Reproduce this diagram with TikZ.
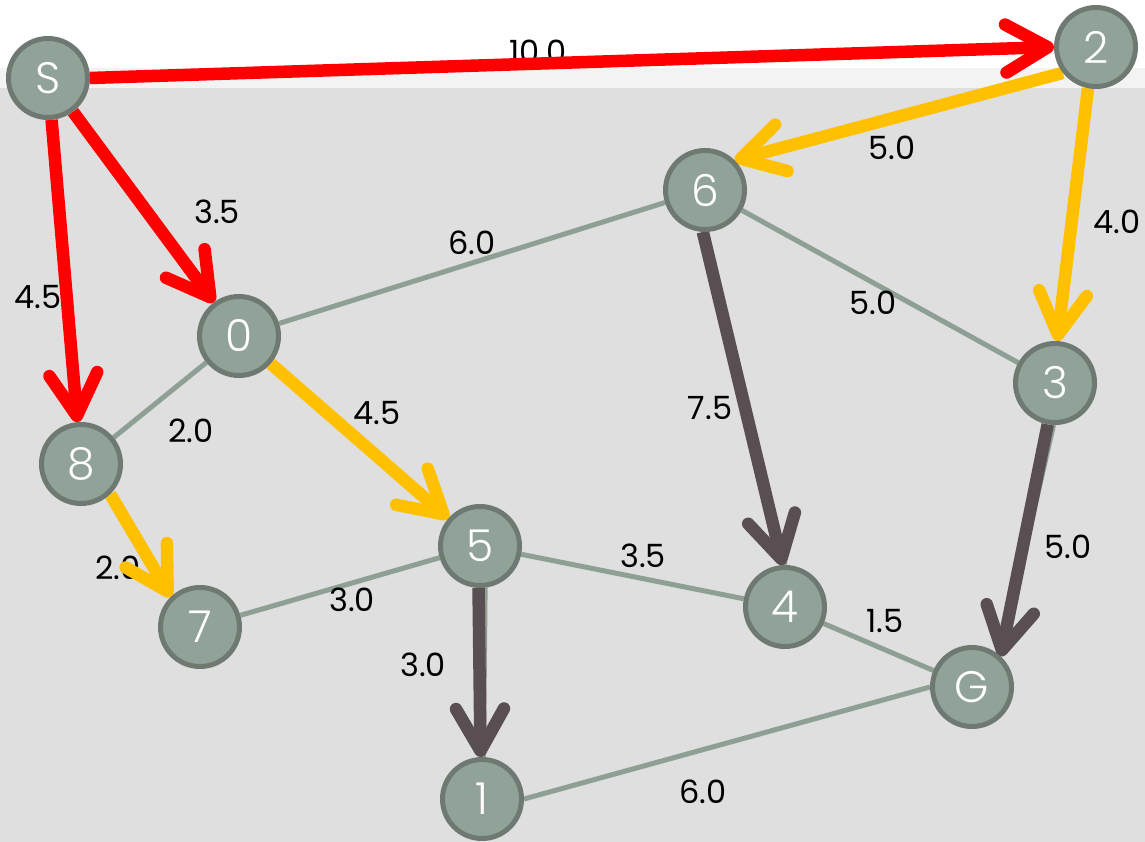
\documentclass[tikz,border=0pt]{standalone}
\usepackage{fontspec}
\setmainfont{Poppins}
\IfFontExistsTF{Poppins Light}
  {\newfontfamily\vertexfont{Poppins Light}}
  {\newfontfamily\vertexfont{Poppins}}
\usetikzlibrary{arrows.meta}

\definecolor{nodefill}{HTML}{91A398}
\definecolor{nodeedge}{HTML}{6E7A71}
\definecolor{plainedge}{HTML}{8E9F94}
\definecolor{hotred}{HTML}{FF0000}
\definecolor{amber}{HTML}{FFC000}
\definecolor{slate}{HTML}{594F52}
\definecolor{panel}{HTML}{DFDFDF}
\definecolor{band}{HTML}{F3F3F3}

\pgfdeclarelayer{backdrop}
\pgfdeclarelayer{plainlayer}
\pgfdeclarelayer{labellayer}
\pgfdeclarelayer{arrowlayer}
\pgfsetlayers{backdrop,plainlayer,labellayer,arrowlayer,main}

\tikzset{
  vertex/.style={circle, draw=nodeedge, fill=nodefill, line width=5pt,
    minimum size=79pt, inner sep=0pt, text=white,
    font=\vertexfont\fontsize{44}{44}\selectfont},
  weight/.style={font=\fontsize{32}{32}\selectfont, text=black, inner sep=0pt},
  plain/.style={draw=plainedge, line width=5pt},
  chevron/.style={line width=12.5pt,
    -{Straight Barb[round,length=42pt,width=48pt]}},
  redpath/.style={chevron, draw=hotred},
  amberpath/.style={chevron, draw=amber},
  slatepath/.style={chevron, draw=slate}
}

\begin{document}
\begin{tikzpicture}[x=1pt,y=-1pt]
  \useasboundingbox (0,0) rectangle (1145,842);

  % vertices
  \node[vertex] (S)  at (48,78)   {S};
  \node[vertex] (n2) at (1096,47) {2};
  \node[vertex] (n6) at (705,190) {6};
  \node[vertex] (n0) at (239,336) {0};
  \node[vertex] (n8) at (81,464)  {8};
  \node[vertex] (n7) at (200,627) {7};
  \node[vertex] (n5) at (480,546) {5};
  \node[vertex] (n4) at (785,607) {4};
  \node[vertex] (n3) at (1055,383) {3};
  \node[vertex] (G)  at (972,687) {G};
  \node[vertex] (n1) at (482,799) {1};

  % backdrop: white header, thin light band, grey panel
  \begin{pgfonlayer}{backdrop}
    \fill[white] (0,0) rectangle (1145,842);
    \fill[band] (0,68) rectangle (1145,88);
    \fill[panel] (0,88) rectangle (1145,842);
  \end{pgfonlayer}

  % undirected edges
  \begin{pgfonlayer}{plainlayer}
    \draw[plain] (n0) -- (n6);
    \draw[plain] (n6) -- (n3);
    \draw[plain] (n0) -- (n8);
    \draw[plain] (n7) -- (n5);
    \draw[plain] (n5) -- (n4);
    \draw[plain] (n4) -- (G);
    \draw[plain] (n1.east) -- (G.west);
    \draw[plain] (n5.277) -- (n1.88);
    \draw[plain] (n3.268) -- (G.47);
    \draw[plain] (n6.272) -- (n4.90);
  \end{pgfonlayer}

  % edge weights
  \begin{pgfonlayer}{labellayer}
    \node[weight] (w1) at (538,52) {10.0};
    \node[weight] (w2) at (217,212) {3.5};
    \node[weight] (w3) at (38,297) {4.5};
    \node[weight] (w4) at (892,148) {5.0};
    \node[weight] (w5) at (1117,222) {4.0};
    \node[weight] (w6) at (472,243) {6.0};
    \node[weight] (w7) at (873,303) {5.0};
    \node[weight] (w8) at (377,413) {4.5};
    \node[weight] (w9) at (191,431) {2.0};
    \node[weight] (w10) at (710,408) {7.5};
    \node[weight] (w11) at (1068,547) {5.0};
    \node[weight] (w12) at (118,568) {2.0};
    \node[weight] (w13) at (352,600) {3.0};
    \node[weight] (w14) at (643,556) {3.5};
    \node[weight] (w15) at (885,621) {1.5};
    \node[weight] (w16) at (423,665) {3.0};
    \node[weight] (w17) at (703,792) {6.0};
  \end{pgfonlayer}

  % directed edges
  \begin{pgfonlayer}{arrowlayer}
    \draw[redpath] (S.east) -- (n2.west);
    \draw[redpath] (S) -- (n0);
    \draw[redpath] (S) -- (n8);
    \draw[amberpath] (n2.218) -- (n6.45);
    \draw[amberpath] (n2.259) -- (n3.87);
    \draw[amberpath] (n0) -- (n5);
    \draw[amberpath] (n8.-46) -- (n7.134);
    \draw[slatepath] (n6.267) -- (n4.93);
    \draw[slatepath] (n3.260) -- (G.47);
    \draw[slatepath] (n5.268) -- (n1.92);
  \end{pgfonlayer}
\end{tikzpicture}
\end{document}
